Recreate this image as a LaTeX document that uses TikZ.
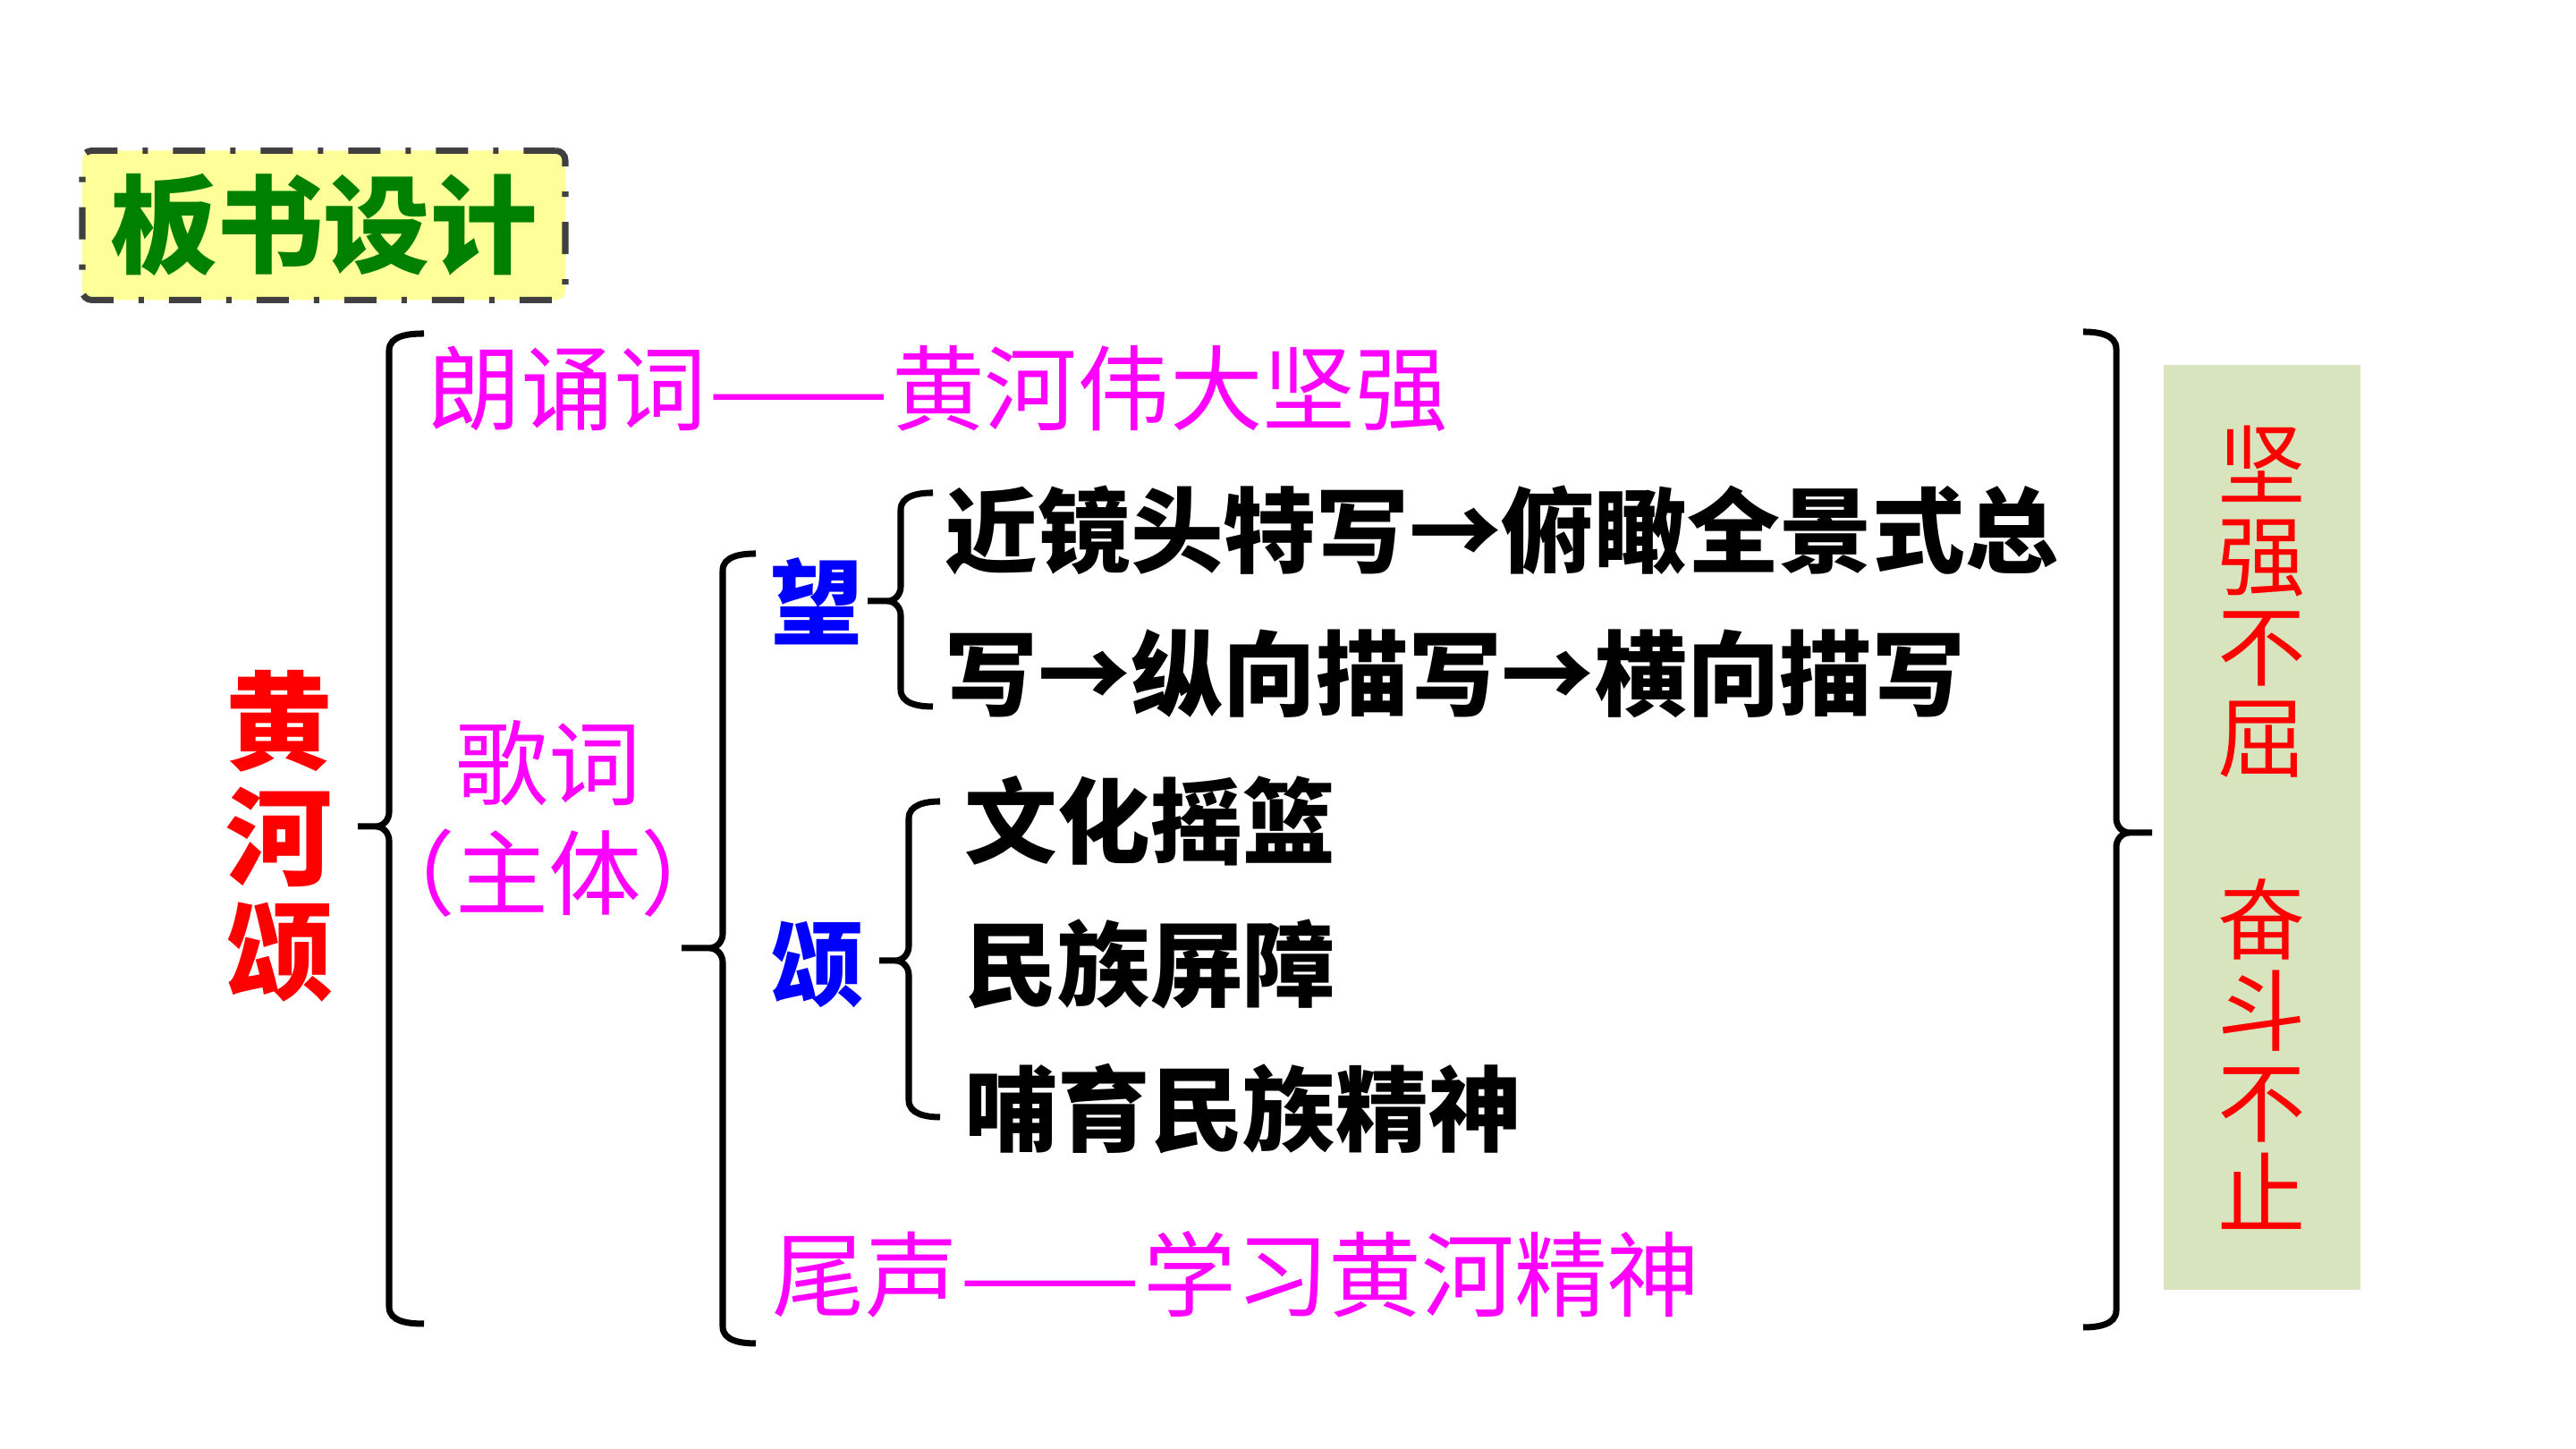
\documentclass[tikz,border=0pt]{standalone}
\usepackage{fontspec}
\newfontfamily\cjk{Noto Sans CJK SC}
\usetikzlibrary{positioning}

\definecolor{titlegreen}{HTML}{008000}
\definecolor{titlefill}{HTML}{FFFF99}
\definecolor{rimgray}{HTML}{404040}
\definecolor{magtext}{HTML}{FF00FF}
\definecolor{bluetext}{HTML}{0000FF}
\definecolor{redtext}{HTML}{FF0000}
\definecolor{sumfill}{HTML}{D7E4BD}

%% two-em dash as printed on the board
\newcommand{\boarddash}{\makebox[2em][c]{\scalebox{1.16}[1]{——}}}

\begin{document}
\begin{tikzpicture}[
  %% title box (top left)
  titlebox/.style={
    rectangle, draw=rimgray, line width=2pt, rounded corners=3pt,
    dash pattern=on 0.36cm off 0.28cm on 0.06cm off 0.28cm,
    fill=titlefill, minimum width=5.4cm, minimum height=1.67cm,
    text=titlegreen, font=\cjk\bfseries\fontsize{34}{40}\selectfont
  },
  %% ordinary text lines
  textline/.style={
    inner sep=0pt, font=\cjk\fontsize{29.5}{35}\selectfont
  },
  %% blue / red key words
  keyword/.style={
    inner sep=0pt, font=\cjk\bfseries\fontsize{29.5}{35}\selectfont
  },
  %% summary box (right margin)
  sumbox/.style={
    rectangle, fill=sumfill, minimum width=2.2cm, minimum height=10.34cm,
    align=center, text=redtext, font=\cjk\fontsize{28}{29}\selectfont
  },
  %% brackets
  brk/.style={draw=black, line width=2pt}
]

\useasboundingbox (0,0) rectangle (28.8,16.2);

%% ================================================================
%% TITLE
%% ================================================================
\node[titlebox] (title) at (3.62,13.68) {板书设计};

%% ================================================================
%% LEFT: POEM NAME
%% ================================================================
\node[keyword, text=redtext, align=center,
      font=\cjk\bfseries\fontsize{34}{36.5}\selectfont] (poem) at (3.12,6.85) {黄\\河\\颂};

\draw[brk] (4.74,12.47) to[out=180,in=90] (4.35,12.28) -- (4.35,7.12)
  to[out=-90,in=0] (4.20,6.96) -- (4.00,6.96)
  (4.20,6.96) to[out=0,in=90] (4.35,6.80) -- (4.35,1.59)
  to[out=-90,in=180] (4.74,1.40);

%% ================================================================
%% RECITATION / LYRICS
%% ================================================================
\node[textline, text=magtext, anchor=west] (recite) at (4.78,11.85) {朗诵词\boarddash 黄河伟大坚强};

\node[textline, text=magtext, align=center] (lyric) at (6.13,7.05) {歌词\\（主体）};

\draw[brk] (8.45,10.01) to[out=180,in=90] (8.08,9.82) -- (8.08,5.76)
  to[out=-90,in=0] (7.93,5.60) -- (7.62,5.60)
  (7.93,5.60) to[out=0,in=90] (8.08,5.44) -- (8.08,1.37)
  to[out=-90,in=180] (8.45,1.18);

%% ================================================================
%% GAZE
%% ================================================================
\node[keyword, text=bluetext] (gaze) at (9.13,9.48) {望};

\draw[brk] (10.43,10.69) to[out=180,in=90] (10.07,10.50) -- (10.07,9.64)
  to[out=-90,in=0] (9.92,9.48) -- (9.70,9.48)
  (9.92,9.48) to[out=0,in=90] (10.07,9.32) -- (10.07,8.49)
  to[out=-90,in=180] (10.43,8.30);

\node[keyword, anchor=west] (gazeA) at (10.56,10.27) {近镜头特写→俯瞰全景式总};
\node[keyword, below=1.6cm of gazeA.west, anchor=west] (gazeB) {写→纵向描写→横向描写};

%% ================================================================
%% ODE
%% ================================================================
\node[keyword, text=bluetext] (ode) at (9.13,5.42) {颂};

\draw[brk] (10.51,7.24) to[out=180,in=90] (10.16,7.05) -- (10.16,5.62)
  to[out=-90,in=0] (10.01,5.46) -- (9.83,5.46)
  (10.01,5.46) to[out=0,in=90] (10.16,5.30) -- (10.16,3.90)
  to[out=-90,in=180] (10.51,3.71);

\node[keyword, anchor=west] (cradle) at (10.78,7.02) {文化摇篮};
\node[keyword, below=1.6cm of cradle.west, anchor=west] (barrier) {民族屏障};
\node[keyword, below=1.62cm of barrier.west, anchor=west] (nurture) {哺育民族精神};

%% ================================================================
%% CODA
%% ================================================================
\node[textline, text=magtext, anchor=west] (coda) at (8.63,1.95) {尾声\boarddash 学习黄河精神};

%% ================================================================
%% RIGHT: SUMMARY
%% ================================================================
\draw[brk] (23.29,12.49) to[out=0,in=90] (23.66,12.30) -- (23.66,7.05)
  to[out=-90,in=180] (23.81,6.89) -- (24.06,6.89)
  (23.81,6.89) to[out=180,in=90] (23.66,6.73) -- (23.66,1.55)
  to[out=-90,in=0] (23.29,1.36);

\node[sumbox] (spirit) at (25.29,6.95) {坚\\强\\不\\屈\\[29pt]奋\\斗\\不\\止};

\end{tikzpicture}
\end{document}
